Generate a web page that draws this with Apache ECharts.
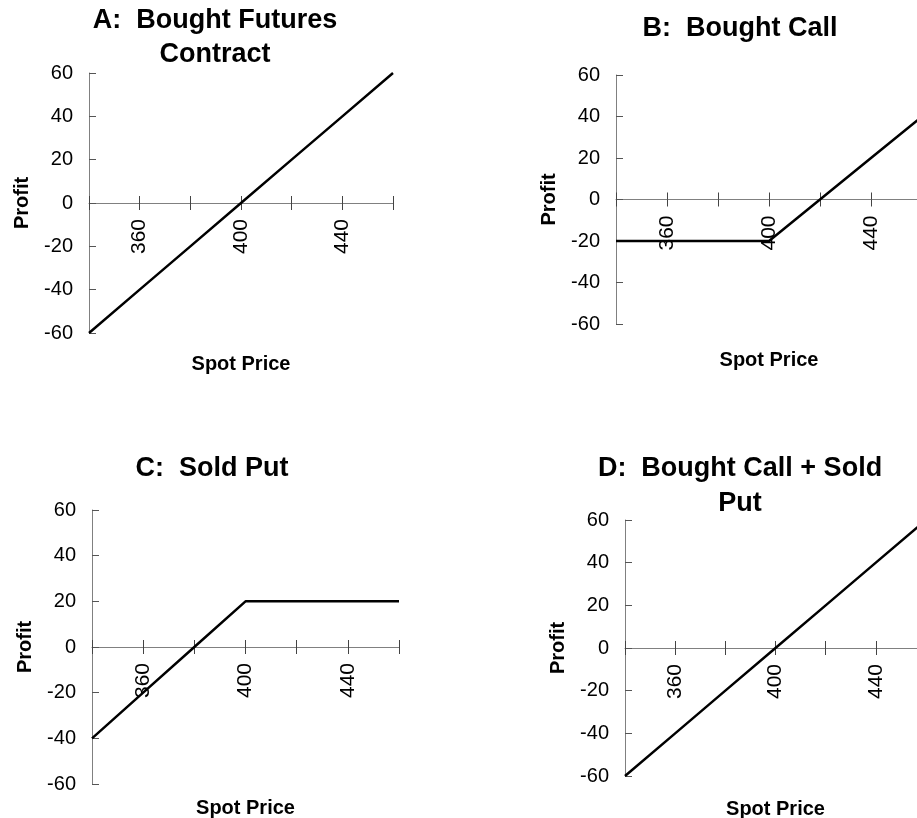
<!DOCTYPE html>
<html>
<head>
<meta charset="utf-8">
<script src="https://cdn.jsdelivr.net/npm/echarts@6/dist/echarts.min.js"></script>
<style>
  html, body { margin: 0; padding: 0; background: #ffffff; }
  #chart { width: 917px; height: 818px; }
</style>
</head>
<body>
<div id="chart"></div>
<script>
// ---- Data ----
const spotPrice = [340, 360, 380, 400, 420, 440, 460];
const futuresProfit = [-60, -40, -20, 0, 20, 40, 60];
const boughtCallProfit = [-20, -20, -20, -20, 0, 20, 40];
const soldPutProfit = [-40, -20, 0, 20, 20, 20, 20];
const callPlusPutProfit = [-60, -40, -20, 0, 20, 40, 60];
const xTickLabels = [360, 400, 440];
const yRange = { min: -60, max: 60, interval: 20 };
const xRange = { min: 340, max: 460, interval: 20 };
const panelTitles = ['A:  Bought Futures\nContract', 'B:  Bought Call', 'C:  Sold Put', 'D:  Bought Call + Sold\nPut'];
const xName = 'Spot Price';
const yName = 'Profit';

// ---- Layout ----
const FONT = 'Arial, "Liberation Sans", Helvetica, sans-serif';
const panels = [
  { grid: { left: 89, top: 73, width: 304, height: 260 }, values: futuresProfit, title: { x: 215, y: 38, lh: 34 } },
  { grid: { left: 616, top: 75, width: 306, height: 249 }, values: boughtCallProfit, title: { x: 740, y: 28.5, lh: 34 } },
  { grid: { left: 92, top: 510, width: 307, height: 274 }, values: soldPutProfit, title: { x: 212, y: 469, lh: 34 } },
  { grid: { left: 625, top: 520, width: 301, height: 256 }, values: callPlusPutProfit, title: { x: 740, y: 486, lh: 35 } }
];

const grids = [], yAxes = [], series = [], graphics = [];
const mainX = [], auxX = [];
const n = panels.length;
panels.forEach((p, i) => {
  const g = p.grid;
  grids.push(Object.assign({ containLabel: false, outerBoundsMode: 'none' }, g));
  yAxes.push({
    type: 'value', gridIndex: i, min: yRange.min, max: yRange.max, interval: yRange.interval,
    position: 'left',
    name: yName, nameLocation: 'middle', nameRotate: 90, nameGap: 57,
    nameTextStyle: { fontFamily: FONT, fontSize: 20, fontWeight: 'bold', color: '#000' },
    axisLine: { show: true, onZero: false, lineStyle: { color: '#808080', width: 1 } },
    axisTick: { show: true, inside: true, length: 7, lineStyle: { color: '#555', width: 1 } },
    axisLabel: { margin: 16, fontFamily: FONT, fontSize: 20, color: '#000' },
    splitLine: { show: false }
  });
  const base = {
    type: 'value', gridIndex: i, min: xRange.min, max: xRange.max, interval: xRange.interval,
    splitLine: { show: false }
  };
  // main x axis: line + downward ticks on the zero line
  mainX.push(Object.assign({}, base, {
    position: 'bottom',
    axisLine: { show: true, onZero: true, onZeroAxisIndex: i, lineStyle: { color: '#808080', width: 1 } },
    axisTick: { show: true, length: 7, lineStyle: { color: '#444', width: 1 } },
    axisLabel: { show: false }
  }));
  // upward ticks on the zero line (cross tick marks)
  mainX.push(Object.assign({}, base, {
    position: 'top',
    axisLine: { show: false, onZero: true, onZeroAxisIndex: i },
    axisTick: { show: true, length: 7, lineStyle: { color: '#444', width: 1 } },
    axisLabel: { show: false }
  }));
  series.push({
    type: 'line', xAxisIndex: 3 * i, yAxisIndex: i,
    data: spotPrice.map((s, k) => [s, p.values[k]]),
    showSymbol: false, symbol: 'none',
    lineStyle: { color: '#000', width: 2.5 },
    z: 5
  });
  graphics.push({
    type: 'text', x: p.title.x, y: p.title.y,
    style: {
      text: panelTitles[i], fill: '#000', font: 'bold 27px ' + FONT,
      textAlign: 'center', textVerticalAlign: 'middle', lineHeight: p.title.lh
    }
  });
});

// auxiliary grids whose bottom edge sits on the zero line: carry tick labels and axis name
panels.forEach((p, i) => {
  const g = p.grid;
  const zeroFrac = (yRange.max - 0) / (yRange.max - yRange.min);
  const gi = n + i;
  grids.push({ left: g.left, top: g.top, width: g.width, height: g.height * zeroFrac, containLabel: false, outerBoundsMode: 'none' });
  yAxes.push({ type: 'value', gridIndex: gi, min: 0, max: 1, show: false });
  auxX.push({
    type: 'value', gridIndex: gi, min: xRange.min, max: xRange.max, interval: xRange.interval,
    position: 'bottom',
    name: xName, nameLocation: 'middle', nameGap: 151,
    nameTextStyle: { fontFamily: FONT, fontSize: 20, fontWeight: 'bold', color: '#000', verticalAlign: 'top' },
    axisLine: { show: false, onZero: false },
    axisTick: { show: false },
    splitLine: { show: false },
    axisLabel: {
      margin: 16, rotate: 90, fontFamily: FONT, fontSize: 21, color: '#000',
      showMinLabel: true, showMaxLabel: true,
      formatter: v => xTickLabels.indexOf(v) >= 0 ? String(v) : ''
    }
  });
});
// per panel: main (3i), top ticks (3i+1), labels/name (3i+2)
const orderedX = [];
for (let i = 0; i < n; i++) {
  orderedX.push(mainX[2 * i], mainX[2 * i + 1], auxX[i]);
}

const chart = echarts.init(document.getElementById('chart'), null, { renderer: 'canvas' });
chart.setOption({
  animation: false,
  backgroundColor: '#ffffff',
  grid: grids,
  xAxis: orderedX,
  yAxis: yAxes,
  series: series,
  graphic: graphics
});
</script>
</body>
</html>
